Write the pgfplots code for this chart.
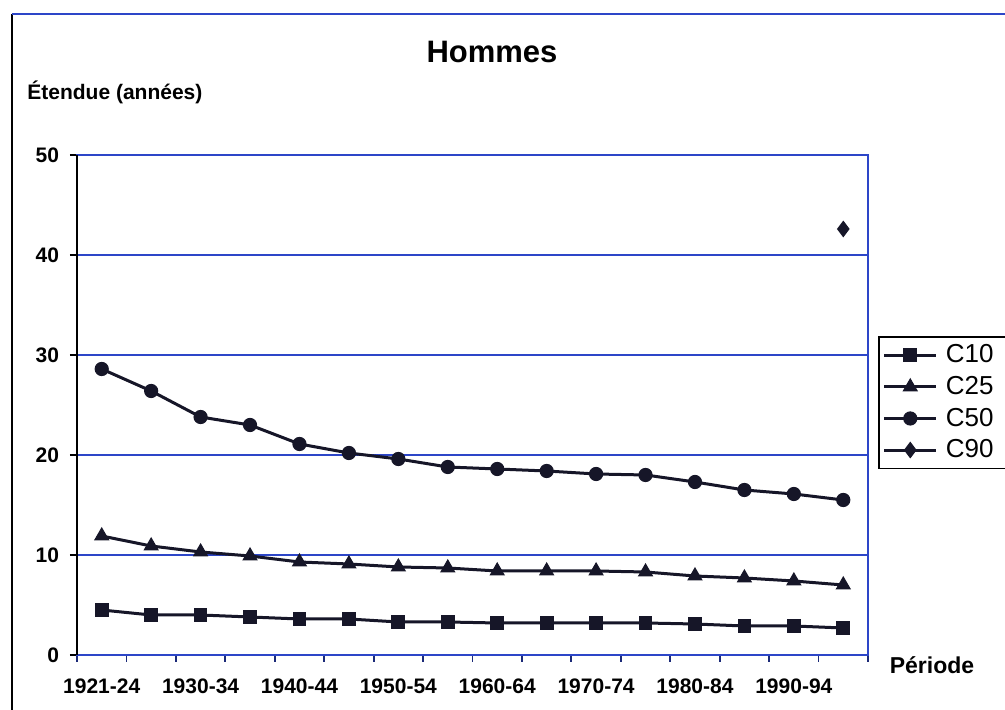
\documentclass[border=0pt]{standalone}
\usepackage{pgfplots}
\pgfplotsset{compat=1.18}
\usepackage{fontspec}
\setmainfont{Liberation Sans}
\definecolor{gridblue}{RGB}{45,70,200}
\definecolor{serie}{RGB}{22,22,40}

\begin{document}
\begin{tikzpicture}
\useasboundingbox (-38.5pt,-27.5pt) rectangle (464pt,327.5pt);
% cadre du graphique
\draw[black, line width=0.9pt] (-32.5pt,-27.5pt) -- (-32.5pt,320.5pt);
\draw[gridblue, line width=1pt] (-32.5pt,320.5pt) -- (464pt,320.5pt);

\begin{axis}[
    at={(0pt,0pt)}, anchor=south west,
    scale only axis,
    width=395.5pt, height=250pt,
    xmin=-0.5, xmax=15.5,
    ymin=0, ymax=50,
    xtick={0,2,...,14},
    xticklabels={1921-24,1930-34,1940-44,1950-54,1960-64,1970-74,1980-84,1990-94},
    minor xtick={-0.5,0.5,...,15.5},
    ytick={0,10,...,50},
    xtick pos=bottom, ytick pos=left,
    tick align=outside,
    major tick length=3.5pt, minor tick length=3.5pt,
    x tick style={draw=none},
    minor x tick style={draw=gridblue!60!black, line width=0.9pt},
    y tick style={draw=black, line width=0.9pt},
    ymajorgrids,
    grid style={gridblue, line width=0.9pt},
    axis line style={gridblue, line width=1pt},
    tick label style={font=\fontsize{10.5}{12}\selectfont\bfseries},
    /pgf/number format/assume math mode=true,
    xticklabel style={yshift=-5pt},
    yticklabel style={xshift=-2pt},
    legend style={at={(1.0126,0.638)}, anchor=north west,
        draw=black, line width=0.8pt, font=\fontsize{13}{15}\selectfont,
        inner sep=2pt, row sep=1.2pt,
        nodes={inner xsep=4pt}},
    legend cell align=left,
    legend image code/.code={%
        \draw[mark repeat=2,mark phase=2] plot coordinates {(0pt,0pt) (13pt,0pt) (26pt,0pt)};},
    every axis plot/.append style={serie, line width=1.5pt, mark options={solid, fill=serie, line width=0.5pt}},
    clip=false,
]
\addplot[mark=square*, mark size=3.2pt] coordinates {
 (0,4.5) (1,4.0) (2,4.0) (3,3.8) (4,3.6) (5,3.6) (6,3.3) (7,3.3)
 (8,3.2) (9,3.2) (10,3.2) (11,3.2) (12,3.1) (13,2.9) (14,2.9) (15,2.7)};
\addlegendentry{C10}
\addplot[mark=triangle*, mark size=4pt] coordinates {
 (0,11.9) (1,10.9) (2,10.3) (3,9.9) (4,9.3) (5,9.1) (6,8.8) (7,8.7)
 (8,8.4) (9,8.4) (10,8.4) (11,8.3) (12,7.9) (13,7.7) (14,7.4) (15,7.0)};
\addlegendentry{C25}
\addplot[mark=*, mark size=3.3pt] coordinates {
 (0,28.6) (1,26.4) (2,23.8) (3,23.0) (4,21.1) (5,20.2) (6,19.6) (7,18.8)
 (8,18.6) (9,18.4) (10,18.1) (11,18.0) (12,17.3) (13,16.5) (14,16.1) (15,15.5)};
\addlegendentry{C50}
\addplot[mark=diamond*, mark size=3.8pt] coordinates {(15,42.6)};
\addlegendentry{C90}
% axe vertical noir
\draw[black, line width=1.3pt] (rel axis cs:0,0) -- (rel axis cs:0,1);
\end{axis}

\node[font=\fontsize{15.5}{18}\selectfont\bfseries] at (207.5pt,301.5pt) {Hommes};
\node[anchor=west, inner sep=0pt, font=\fontsize{10.5}{12}\selectfont\bfseries] at (-25pt,281.5pt) {Étendue (années)};
\node[font=\fontsize{11.5}{13}\selectfont\bfseries] at (427.5pt,-5pt) {Période};
\end{tikzpicture}
\end{document}
